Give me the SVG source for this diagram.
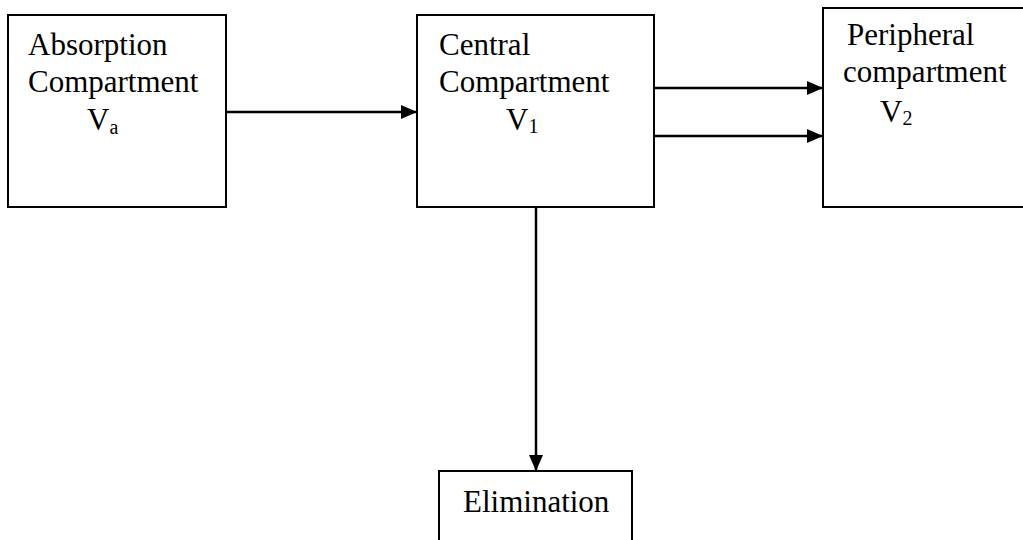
<svg xmlns="http://www.w3.org/2000/svg" width="1023" height="540" viewBox="0 0 1023 540">
<style>
.box{fill:#fff;stroke:#000;stroke-width:2}
.t{font-family:"Liberation Serif","Times New Roman",serif;font-size:31px;fill:#000}
.s{font-size:20px}
.c{stroke:#000;stroke-width:2.5;fill:none}
</style>
<defs>
<marker id="ah" markerUnits="userSpaceOnUse" markerWidth="16" markerHeight="14" refX="16" refY="7" orient="auto">
<path d="M0,0 L16,7 L0,14 Z" fill="#000"/>
</marker>
</defs>
<rect width="1023" height="540" fill="#fff"/>
<g id="absorption">
<rect class="box" x="8" y="15" width="218" height="192"/>
<text class="t" x="28" y="55">Absorption</text>
<text class="t" x="28" y="92">Compartment</text>
<text class="t" x="87" y="130">V<tspan class="s" dy="4">a</tspan></text>
</g>
<g id="central">
<rect class="box" x="417" y="15" width="237" height="192"/>
<text class="t" x="439" y="55">Central</text>
<text class="t" x="439" y="92">Compartment</text>
<text class="t" x="506" y="130">V<tspan class="s" dy="3">1</tspan></text>
</g>
<g id="peripheral">
<rect class="box" x="823" y="8" width="210" height="199"/>
<text class="t" x="847" y="45">Peripheral</text>
<text class="t" x="843" y="82">compartment</text>
<text class="t" x="880" y="122">V<tspan class="s" dy="3">2</tspan></text>
</g>
<g id="elimination">
<rect class="box" x="439" y="471" width="193" height="90"/>
<text class="t" x="463" y="512">Elimination</text>
</g>
<g id="connectors">
<line class="c" x1="226" y1="112" x2="417" y2="112" marker-end="url(#ah)"/>
<line class="c" x1="654" y1="88" x2="823" y2="88" marker-end="url(#ah)"/>
<line class="c" x1="654" y1="136" x2="823" y2="136" marker-end="url(#ah)"/>
<line class="c" x1="536" y1="207" x2="536" y2="471" marker-end="url(#ah)"/>
</g>
</svg>
